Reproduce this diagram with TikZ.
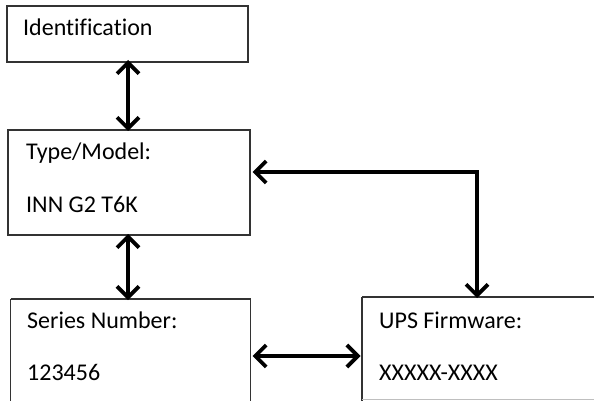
\documentclass[tikz,border=0pt]{standalone}
\usepackage{fontspec}
\setmainfont[Ligatures=NoCommon]{Carlito}
\usetikzlibrary{arrows.meta}
\begin{document}
\begin{tikzpicture}[x=1pt,y=-1pt,
  box/.style={draw=black!80,line width=1.2pt},
  lbl/.style={anchor=base west,inner sep=0pt,font=\fontsize{24}{28}\selectfont,text=black},
  conn/.style={line width=3.8pt,{Straight Barb[length=11pt,width=22pt,line width=3.8pt]}-{Straight Barb[length=11pt,width=22pt,line width=3.8pt]}}]
\useasboundingbox (0,0) rectangle (594,401);
\clip (0,0) rectangle (594,401);
% boxes
\draw[box] (7,6) rectangle (248,62);
\draw[box] (8,130) rectangle (250,235);
\draw[box] (10.5,299) -- (10.5,410) (10.5,299) -- (250.5,299) -- (250.5,410);
\draw[box] (362,297) -- (362,410) (362,297) -- (600,297);
\draw[black!25,line width=1.2pt] (362,399.5) -- (600,399.5);
% named anchors
\coordinate (b1s) at (128,62);
\coordinate (b2n) at (128,130);
\coordinate (b2s) at (128,235);
\coordinate (b3n) at (128,299);
\coordinate (b2e) at (250,172);
\coordinate (bend) at (477,172);
\coordinate (b4n) at (477,297);
\coordinate (b3e) at (250.5,356);
\coordinate (b4w) at (362,356);
% texts
\node[lbl] (t1) at (23,35.5) {Identification};
\node[lbl] (t2) at (26,159) {Type/Model:};
\node[lbl] (t3) at (26,212.5) {INN G2 T6K};
\node[lbl] (t4) at (27,328) {Series Number:};
\node[lbl] (t5) at (27,380.5) {123456};
\node[lbl] (t6) at (379,328) {UPS Firmware:};
\node[lbl] (t7) at (379,380.5) {XXXXX-XXXX};
% connectors
\draw[conn] ([yshift=2pt]b1s) -- ([yshift=-1pt]b2n);
\draw[conn] ([yshift=1pt]b2s) -- ([yshift=-1pt]b3n);
\draw[conn] ([xshift=2pt]b3e) -- ([xshift=-1.5pt]b4w);
\draw[conn,line join=miter] ([xshift=2.5pt]b2e) -- (bend) -- ([yshift=-1pt]b4n);
\end{tikzpicture}
\end{document}
